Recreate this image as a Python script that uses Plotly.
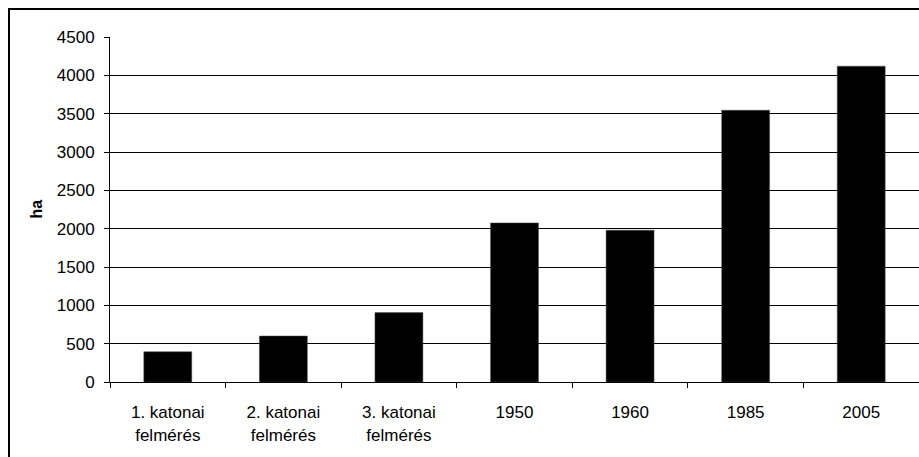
import plotly.graph_objects as go

categories = ["1. katonai<br>felmérés", "2. katonai<br>felmérés", "3. katonai<br>felmérés",
              "1950", "1960", "1985", "2005"]
values = [395, 600, 905, 2075, 1980, 3545, 4120]
y_ticks = [0, 500, 1000, 1500, 2000, 2500, 3000, 3500, 4000, 4500]

W, H = 919, 457
L, R, T, B = 110, 0, 36.5, 74.5
pw, ph = W - L - R, H - T - B

fig = go.Figure(go.Bar(
    x=categories, y=values,
    marker=dict(color="black", line=dict(color="#555555", width=0.5)),
))

font = dict(family="Liberation Sans, Arial, sans-serif", size=17, color="black")

fig.update_layout(
    width=W, height=H,
    margin=dict(l=L, r=R, t=T, b=B, autoexpand=False),
    paper_bgcolor="white", plot_bgcolor="white",
    bargap=0.585,
    showlegend=False,
    font=font,
    xaxis=dict(
        type="category", tickson="boundaries",
        ticks="outside", ticklen=5, tickcolor="black", tickwidth=1,
        showline=True, linecolor="black", linewidth=1,
        showgrid=False, ticklabelstandoff=15,
        tickfont=font,
    ),
    yaxis=dict(
        range=[0, 4500], tickvals=y_ticks,
        ticks="outside", ticklen=5, tickcolor="black", tickwidth=1,
        showline=True, linecolor="black", linewidth=1,
        showgrid=True, gridcolor="black", gridwidth=1,
        zeroline=False, ticklabelstandoff=6,
        tickfont=font,
    ),
    annotations=[dict(
        text="<b>ha</b>", textangle=-90, showarrow=False,
        xref="paper", yref="paper",
        x=(36 - L) / pw, y=0.5, xanchor="center", yanchor="middle",
        font=dict(family="Liberation Sans, Arial, sans-serif", size=16, color="black"),
    )],
    shapes=[dict(
        type="rect", xref="paper", yref="paper",
        x0=(9 - L) / pw, x1=2, y0=-1, y1=(H - B - 8.5) / ph,
        line=dict(color="black", width=2), fillcolor="rgba(0,0,0,0)",
        layer="above",
    )],
)

fig.write_html(
    "out.html",
    config={"displayModeBar": False},
    post_script="document.body.style.margin='0';"
                "document.documentElement.style.overflow='hidden';"
                "document.body.style.overflow='hidden';",
)
